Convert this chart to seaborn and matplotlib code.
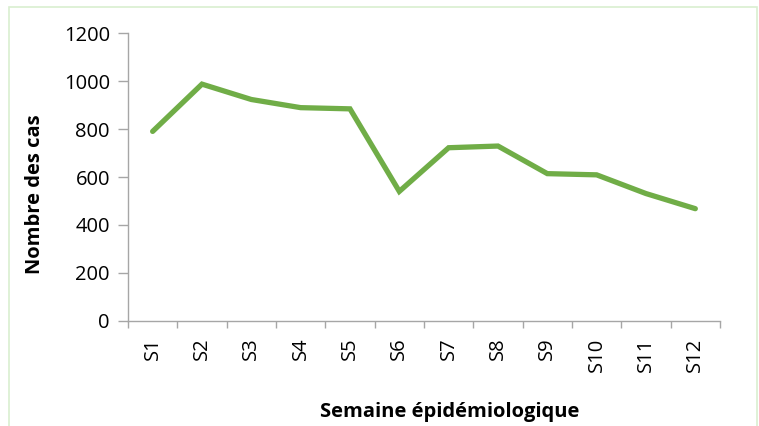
import numpy as np
import pandas as pd
import matplotlib
matplotlib.use("Agg")
import matplotlib.pyplot as plt
import seaborn as sns
from matplotlib.patches import Rectangle

# données
semaines = ['S1', 'S2', 'S3', 'S4', 'S5', 'S6', 'S7', 'S8', 'S9', 'S10', 'S11', 'S12']
cas = [790, 987, 923, 889, 884, 540, 722, 729, 614, 609, 531, 468]
y_ticks = [0, 200, 400, 600, 800, 1000, 1200]

sns.set_style('white')
plt.rcParams['font.family'] = ['Open Sans', 'DejaVu Sans']
plt.rcParams['text.color'] = 'black'
plt.rcParams['xtick.labelcolor'] = 'black'
plt.rcParams['ytick.labelcolor'] = 'black'

df = pd.DataFrame({'Semaine': semaines, 'Cas': cas})

fig = plt.figure(figsize=(7.59, 4.26), dpi=100)
ax = fig.add_axes([0.1686, 0.2465, 0.78, 0.676])

sns.lineplot(data=df, x='Semaine', y='Cas', color='#70AD47', linewidth=3.8,
             solid_capstyle='round', solid_joinstyle='miter', ax=ax)

ax.set_xlim(-0.5, len(semaines) - 0.5)
ax.set_ylim(0, 1200)
ax.set_yticks(y_ticks)
ax.set_yticklabels([str(v) for v in y_ticks], fontsize=14.5)

ax.set_xticks(np.arange(len(semaines)))
ax.set_xticklabels(semaines, rotation=90, fontsize=14.5)
ax.set_xticks(np.arange(len(semaines) + 1) - 0.5, minor=True)
ax.tick_params(axis='x', which='major', length=0, pad=12)
ax.tick_params(axis='x', which='minor', length=5, color='#A6A6A6', width=1, direction='out')
ax.tick_params(axis='y', which='major', length=7, color='#A6A6A6', width=1, direction='out', pad=6)
ax.xaxis.set_ticks_position('bottom')
ax.yaxis.set_ticks_position('left')

for side in ['top', 'right']:
    ax.spines[side].set_visible(False)
for side in ['left', 'bottom']:
    ax.spines[side].set_color('#A6A6A6')
    ax.spines[side].set_linewidth(1)

ax.set_xlabel('')
ax.set_ylabel('')
fig.text(450 / 759, 1 - 412 / 426, 'Semaine épidémiologique', fontsize=14.5,
         fontweight='bold', ha='center', va='center')
fig.text(35 / 759, 1 - 194 / 426, 'Nombre des cas', fontsize=14.5,
         fontweight='bold', ha='center', va='center', rotation=90)

# cadre du graphique
fig.patches.append(Rectangle((9 / 759, -0.01), 748 / 759, 1.01 - 11 / 426 + 0.01,
                             transform=fig.transFigure, fill=False,
                             edgecolor='#D9EFD0', linewidth=1.2))

fig.savefig('out.png', dpi=100)
